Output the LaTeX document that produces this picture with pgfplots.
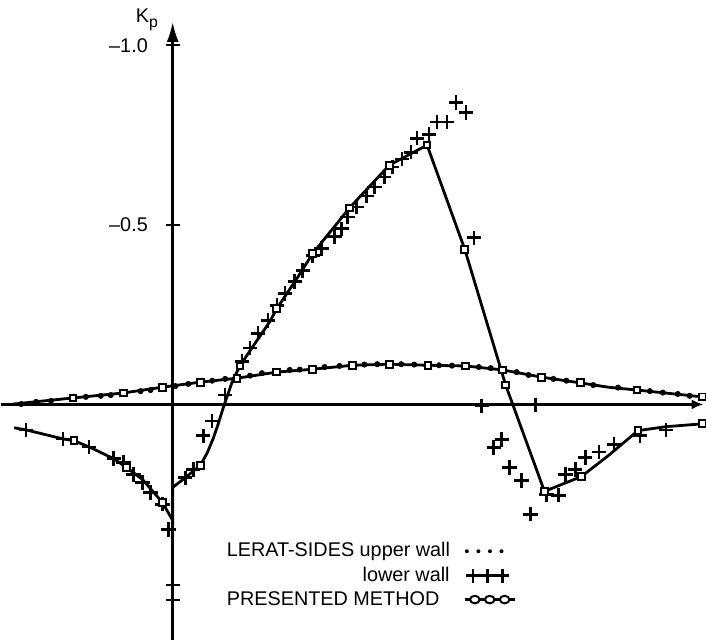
\documentclass[border=0pt]{standalone}
\usepackage{fontspec}
\setmainfont{Liberation Sans}
\usepackage{pgfplots}
\pgfplotsset{compat=1.18}
\usetikzlibrary{arrows.meta}

% x: position along the wall (arbitrary units), y: Kp
\pgfplotstableread{
x y
-1.603 -0.001
-1.003 -0.018
-0.493 -0.032
-0.103 -0.048
0.277 -0.062
0.647 -0.073
1.047 -0.090
1.407 -0.098
1.807 -0.109
2.177 -0.112
2.567 -0.109
2.947 -0.107
3.317 -0.096
3.707 -0.076
4.097 -0.060
4.377 -0.048
4.667 -0.040
5.327 -0.021
}\upperline

\pgfplotstableread{
x y
-1.003 -0.018
-0.493 -0.032
-0.103 -0.048
0.277 -0.062
0.647 -0.073
1.047 -0.090
1.407 -0.098
1.807 -0.109
2.177 -0.112
2.567 -0.109
2.947 -0.107
3.317 -0.096
3.707 -0.076
4.097 -0.060
4.667 -0.040
5.327 -0.021
}\uppersq

\pgfplotstableread{
x y
-1.523 -0.001
-1.373 -0.007
-1.223 -0.010
-0.873 -0.021
-0.723 -0.024
-0.623 -0.026
-0.323 -0.037
-0.223 -0.040
0.027 -0.051
0.157 -0.057
0.397 -0.066
0.527 -0.071
0.777 -0.080
0.897 -0.087
1.177 -0.096
1.277 -0.097
1.527 -0.104
1.677 -0.107
1.927 -0.111
2.057 -0.112
2.297 -0.112
2.427 -0.111
2.677 -0.109
2.807 -0.108
3.077 -0.104
3.197 -0.101
3.457 -0.090
3.577 -0.082
3.827 -0.071
3.957 -0.066
4.227 -0.054
4.477 -0.047
4.797 -0.037
4.927 -0.033
5.077 -0.029
5.197 -0.024
}\upperdots

\pgfplotstableread{
x y
-1.593 0.065
-1.473 0.071
-1.103 0.096
-0.993 0.101
-0.843 0.118
-0.593 0.151
-0.463 0.176
-0.303 0.209
-0.103 0.273
0.000 0.323
0.000 0.231
0.127 0.204
0.277 0.170
0.347 0.135
0.407 0.095
0.457 0.055
0.507 0.010
0.607 -0.070
0.677 -0.107
0.747 -0.137
0.977 -0.231
1.047 -0.267
1.247 -0.350
1.407 -0.420
1.777 -0.547
2.177 -0.666
2.557 -0.722
2.937 -0.431
3.347 -0.054
3.737 0.242
4.107 0.201
4.377 0.143
4.677 0.073
4.957 0.062
5.327 0.054
}\lowerline

\pgfplotstableread{
x y
-0.993 0.101
-0.463 0.176
-0.103 0.273
0.277 0.170
0.677 -0.107
1.047 -0.267
1.407 -0.420
1.777 -0.547
2.177 -0.666
2.557 -0.722
2.937 -0.431
3.347 -0.054
3.737 0.242
4.107 0.201
4.677 0.073
5.327 0.054
}\lowersq

\pgfplotstableread{
x y
-1.473 0.071
-1.103 0.096
-0.843 0.118
-0.593 0.151
-0.493 0.162
-0.393 0.195
-0.303 0.217
-0.223 0.245
-0.103 0.278
-0.043 0.348
0.000 0.503
0.000 0.544
0.127 0.204
0.207 0.181
0.307 0.087
0.397 0.046
0.527 -0.026
0.697 -0.120
0.777 -0.157
0.857 -0.198
0.957 -0.234
1.047 -0.276
1.127 -0.309
1.227 -0.342
1.307 -0.373
1.407 -0.414
1.497 -0.434
1.627 -0.467
1.697 -0.489
1.757 -0.522
1.847 -0.550
1.947 -0.580
2.027 -0.605
2.127 -0.633
2.207 -0.661
2.307 -0.683
2.397 -0.702
2.457 -0.741
2.577 -0.752
2.657 -0.786
2.757 -0.786
2.847 -0.841
2.947 -0.813
3.027 -0.464
3.107 0.004
3.647 0.001
3.227 0.120
3.307 0.098
3.387 0.176
3.507 0.212
3.597 0.306
3.757 0.251
3.877 0.253
3.947 0.195
4.047 0.181
4.147 0.148
4.287 0.132
4.437 0.112
4.697 0.087
4.957 0.071
}\lowerplus

\begin{document}
\fontsize{10}{12}\selectfont
\begin{tikzpicture}
\begin{axis}[
  scale only axis, width=353bp, height=310.5bp,
  xmin=-1.723, xmax=5.337, ymin=-1.065, ymax=0.655,
  y dir=reverse,
  axis lines=middle,
  axis line style={line width=1.3bp},
  every inner x axis line/.append style={-{Latex[length=6bp,width=5bp]}},
  every inner y axis line/.append style={{Latex[length=10bp,width=6bp]}-},
  xtick=\empty,
  ytick={-1,-0.5}, yticklabels={–1.0,–0.5},
  tick align=center, major tick length=7bp,
  tick style={line width=1.1bp, black},
  yticklabel style={font=\fontsize{10}{12}\selectfont, anchor=east, xshift=-5.5bp},
  clip=false,
  legend plot pos=right,
  legend style={at={(axis cs:0.52,0.378)}, anchor=north west, draw=none, fill=none,
    inner sep=0pt, row sep=1.5bp, column sep=6bp, font=\fontsize{10}{12}\selectfont,
    nodes={inner sep=1bp}},
]
\path (axis cs:-1.723,-1.126) (axis cs:5.337,0.655);

\addplot[forget plot, only marks, mark=+, mark size=3.6bp, mark options={line width=1.3bp}] table {\lowerplus};
\addplot[forget plot, only marks, mark=*, mark size=1.3bp] table {\upperdots};
\addplot[forget plot, line width=1.4bp, mark=none] table {\upperline};
\addplot[forget plot, line width=1.4bp, mark=none] table {\lowerline};
\addplot[forget plot, only marks, mark=square*, mark size=1.7bp, mark options={fill=white, line width=1bp}] table {\uppersq};
\addplot[forget plot, only marks, mark=square*, mark size=1.7bp, mark options={fill=white, line width=1bp}] table {\lowersq};

\addlegendimage{legend image code/.code={\draw[line width=2bp, line cap=round, dash pattern=on 0pt off 5.8bp] (0bp,0bp) -- (17.5bp,0bp);}}
\addlegendentry{\makebox[112bp][l]{LERAT-SIDES upper wall}}
\addlegendimage{legend image code/.code={\draw[line width=1.3bp] (-0.5bp,0bp) -- (21bp,0bp);
  \draw[line width=1.3bp] (3bp,-3.5bp) -- (3bp,3.5bp);
  \draw[line width=1.3bp] (10.5bp,-3.5bp) -- (10.5bp,3.5bp);
  \draw[line width=1.3bp] (18bp,-3.5bp) -- (18bp,3.5bp);}}
\addlegendentry{\makebox[112bp][r]{lower wall}}
\addlegendimage{legend image code/.code={\draw[line width=1.3bp] (-1bp,0bp) -- (24bp,0bp);
  \draw[line width=1bp, fill=white] (4bp,0bp) ellipse (2.4bp and 1.9bp);
  \draw[line width=1bp, fill=white] (11.5bp,0bp) ellipse (2.4bp and 1.9bp);
  \draw[line width=1bp, fill=white] (19bp,0bp) ellipse (2.4bp and 1.9bp);}}
\addlegendentry{\makebox[112bp][l]{PRESENTED METHOD}}

\node at (axis cs:-0.26,-1.071) {K\raisebox{-0.45ex}{\fontsize{8}{9}\selectfont p}};
\end{axis}
\end{tikzpicture}
\end{document}
